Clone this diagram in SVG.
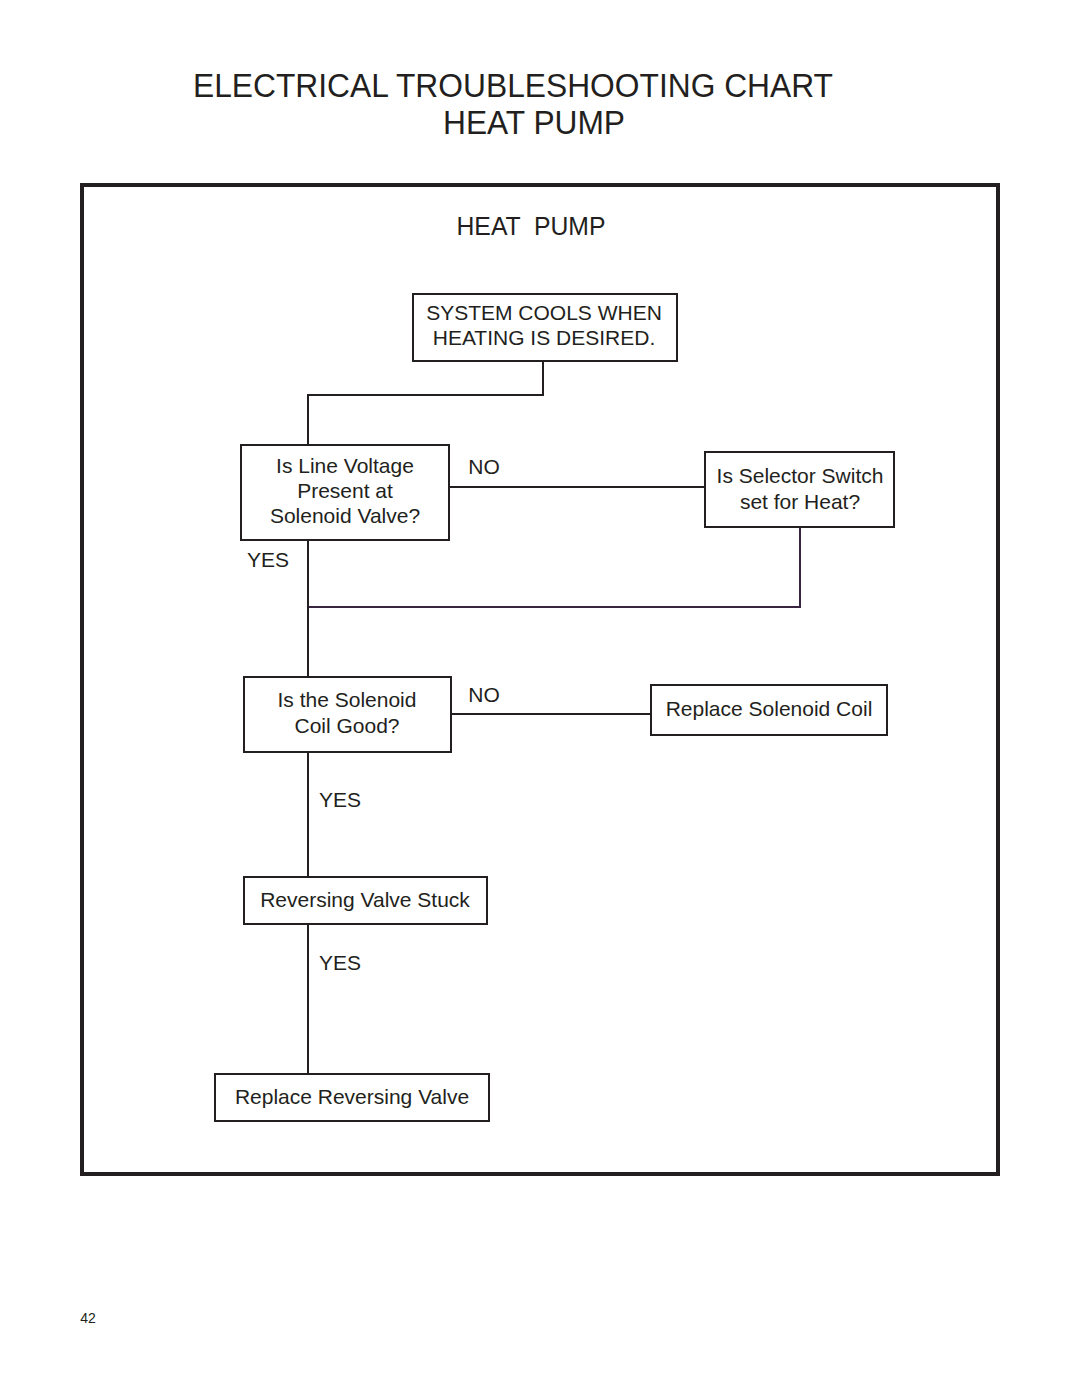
<svg xmlns="http://www.w3.org/2000/svg" width="1080" height="1397" viewBox="0 0 1080 1397">
<style>
text{font-family:"Liberation Sans",Arial,sans-serif;fill:#231f20;text-anchor:middle}
.t{font-size:21px}
.box{fill:#fff;stroke:#231f20;stroke-width:2}
.ln{fill:none;stroke:#231f20;stroke-width:2}
</style>
<rect width="1080" height="1397" fill="#fff"/>
<text x="513" y="97" font-size="34" textLength="640" lengthAdjust="spacingAndGlyphs">ELECTRICAL TROUBLESHOOTING CHART</text>
<text x="534" y="134" font-size="34" textLength="182" lengthAdjust="spacingAndGlyphs">HEAT PUMP</text>
<rect x="82" y="185" width="916" height="989" fill="none" stroke="#231f20" stroke-width="4"/>
<text x="531" y="235" font-size="25" xml:space="preserve" style="white-space:pre" textLength="149" lengthAdjust="spacingAndGlyphs">HEAT  PUMP</text>
<g id="connectors">
<polyline class="ln" points="543,361 543,395 308,395 308,445"/>
<line class="ln" x1="449" y1="487" x2="705" y2="487"/>
<polyline class="ln" points="800,527 800,607 308,607" style="stroke:#3a2540"/>
<line class="ln" x1="308" y1="540" x2="308" y2="677"/>
<line class="ln" x1="451" y1="714" x2="651" y2="714"/>
<line class="ln" x1="308" y1="752" x2="308" y2="877"/>
<line class="ln" x1="308" y1="924" x2="308" y2="1074"/>
<text class="t" x="484" y="474">NO</text>
<text class="t" x="268" y="567">YES</text>
<text class="t" x="484" y="702">NO</text>
<text class="t" x="340" y="807">YES</text>
<text class="t" x="340" y="970">YES</text>
</g>
<g id="start">
<rect class="box" x="413" y="294" width="264" height="67"/>
<text class="t" x="544" y="320">SYSTEM COOLS WHEN</text>
<text class="t" x="544" y="345">HEATING IS DESIRED.</text>
</g>
<g id="line-voltage">
<rect class="box" x="241" y="445" width="208" height="95"/>
<text class="t" x="345" y="473">Is Line Voltage</text>
<text class="t" x="345" y="498">Present at</text>
<text class="t" x="345" y="523">Solenoid Valve?</text>
</g>
<g id="selector-switch">
<rect class="box" x="705" y="452" width="189" height="75"/>
<text class="t" x="800" y="483">Is Selector Switch</text>
<text class="t" x="800" y="509">set for Heat?</text>
</g>
<g id="solenoid-coil">
<rect class="box" x="244" y="677" width="207" height="75"/>
<text class="t" x="347" y="707">Is the Solenoid</text>
<text class="t" x="347" y="733">Coil Good?</text>
</g>
<g id="replace-coil">
<rect class="box" x="651" y="685" width="236" height="50"/>
<text class="t" x="769" y="716">Replace Solenoid Coil</text>
</g>
<g id="valve-stuck">
<rect class="box" x="244" y="877" width="243" height="47"/>
<text class="t" x="365" y="907">Reversing Valve Stuck</text>
</g>
<g id="replace-valve">
<rect class="box" x="215" y="1074" width="274" height="47"/>
<text class="t" x="352" y="1104">Replace Reversing Valve</text>
</g>
<text x="88" y="1323" font-size="14">42</text>
</svg>
